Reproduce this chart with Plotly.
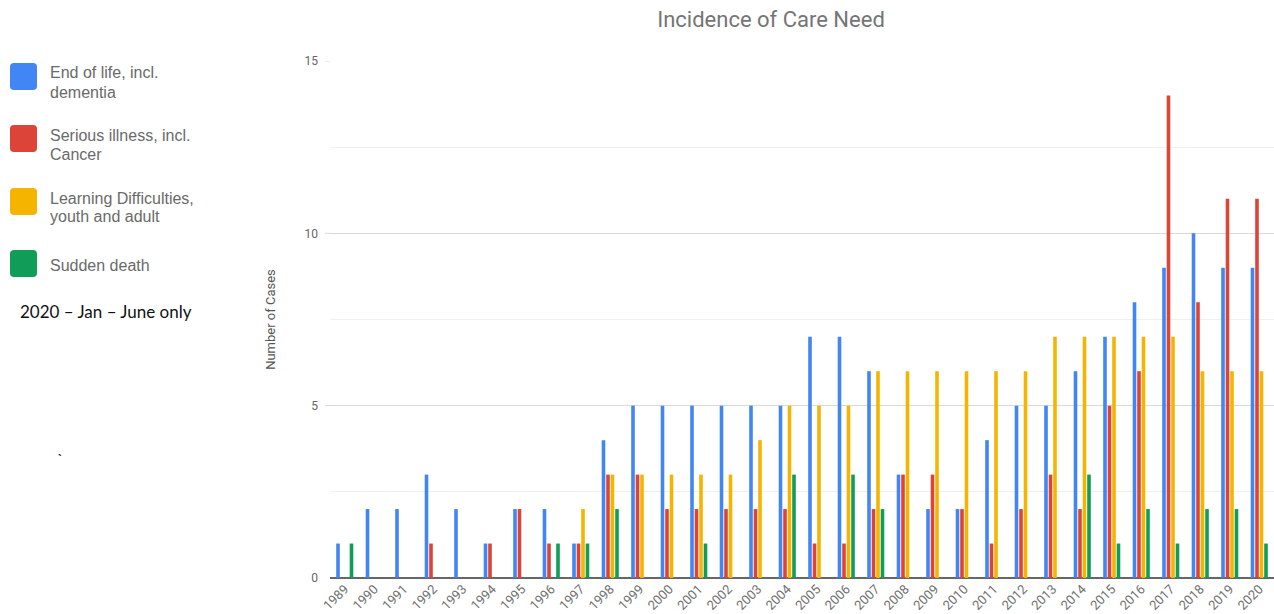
import plotly.graph_objects as go

# Yearly counts per care-need category
years = [str(y) for y in range(1989, 2021)]
end_of_life = [1, 2, 2, 3, 2, 1, 2, 2, 1, 4, 5, 5, 5, 5, 5, 5,
               7, 7, 6, 3, 2, 2, 4, 5, 5, 6, 7, 8, 9, 10, 9, 9]
serious_illness = [0, 0, 0, 1, 0, 1, 2, 1, 1, 3, 3, 2, 2, 2, 2, 2,
                   1, 1, 2, 3, 3, 2, 1, 2, 3, 2, 5, 6, 14, 8, 11, 11]
learning_difficulties = [0, 0, 0, 0, 0, 0, 0, 0, 2, 3, 3, 3, 3, 3, 4, 5,
                         5, 5, 6, 6, 6, 6, 6, 6, 7, 7, 7, 7, 7, 6, 6, 6]
sudden_death = [1, 0, 0, 0, 0, 0, 0, 1, 1, 2, 0, 0, 1, 0, 0, 3,
                0, 3, 2, 0, 0, 0, 0, 0, 0, 3, 1, 2, 1, 2, 2, 1]

series_names = [
    "End of life, incl. dementia",
    "Serious illness, incl. Cancer",
    "Learning Difficulties, youth and adult",
    "Sudden death",
]
legend_lines = [
    ["End of life, incl.", "dementia"],
    ["Serious illness, incl.", "Cancer"],
    ["Learning Difficulties,", "youth and adult"],
    ["Sudden death"],
]
colors = ["#4285F4", "#DB4437", "#F4B400", "#0F9D58"]
series_values = [end_of_life, serious_illness, learning_difficulties, sudden_death]

W, H = 1274, 614
L, R, T, B = 330, 0, 61, 36
plot_w = W - L - R
plot_h = H - T - B


def px_x(x):
    return (x - L) / plot_w


def px_y(y):
    return (H - B - y) / plot_h


def rounded_square(x0, y0, size, r):
    """SVG path (paper coords) of a rounded square given pixel corner and size."""
    x1, y1 = x0 + size, y0 + size
    pts = [
        f"M {px_x(x0 + r)} {px_y(y0)}",
        f"L {px_x(x1 - r)} {px_y(y0)}",
        f"Q {px_x(x1)} {px_y(y0)} {px_x(x1)} {px_y(y0 + r)}",
        f"L {px_x(x1)} {px_y(y1 - r)}",
        f"Q {px_x(x1)} {px_y(y1)} {px_x(x1 - r)} {px_y(y1)}",
        f"L {px_x(x0 + r)} {px_y(y1)}",
        f"Q {px_x(x0)} {px_y(y1)} {px_x(x0)} {px_y(y1 - r)}",
        f"L {px_x(x0)} {px_y(y0 + r)}",
        f"Q {px_x(x0)} {px_y(y0)} {px_x(x0 + r)} {px_y(y0)}",
        "Z",
    ]
    return " ".join(pts)


fig = go.Figure()
for name, vals, col in zip(series_names, series_values, colors):
    fig.add_trace(go.Bar(x=years, y=vals, name=name, marker_color=col,
                         marker_line_width=0))

# Side legend: colored swatches with wrapped labels
shapes = []
annotations = []
swatch_tops = [63, 125, 188, 250]
for top, lines, col in zip(swatch_tops, legend_lines, colors):
    shapes.append(dict(type="path", xref="paper", yref="paper",
                       path=rounded_square(10, top, 27, 4),
                       fillcolor=col, line=dict(width=0), layer="above"))
    if len(lines) == 2:
        centers = [top + 10, top + 29]
    else:
        centers = [top + 15]
    for text, cy in zip(lines, centers):
        annotations.append(dict(text=text, xref="paper", yref="paper",
                                x=px_x(48), y=px_y(cy), xanchor="left", yanchor="middle",
                                showarrow=False,
                                font=dict(family="Liberation Sans, Arial", size=16,
                                          color="#6a6a6a")))

annotations.append(dict(text="2020 – Jan – June only", xref="paper", yref="paper",
                        x=px_x(18), y=px_y(311), xanchor="left", yanchor="middle",
                        showarrow=False,
                        font=dict(family="Lato, Carlito, sans-serif", size=17,
                                  color="#111111")))
annotations.append(dict(text="`", xref="paper", yref="paper",
                        x=px_x(60), y=px_y(458), xanchor="center", yanchor="middle",
                        showarrow=False,
                        font=dict(family="Lato, sans-serif", size=16, color="#111111")))

# Gridlines begin a few pixels left of the first category
for v in (5, 10, 15):
    shapes.append(dict(type="line", xref="paper", yref="y", x0=px_x(325), x1=0,
                       y0=v, y1=v, line=dict(color="#d9d9d9", width=1)))

fig.update_layout(
    width=W, height=H,
    margin=dict(l=L, r=R, t=T, b=B, pad=0),
    paper_bgcolor="white", plot_bgcolor="white",
    barmode="group", bargap=0.39, bargroupgap=0.2,
    showlegend=False,
    title=dict(text="Incidence of Care Need", xref="container", x=771 / W,
               xanchor="center", yref="container", y=1 - 19 / H, yanchor="middle",
               font=dict(family="Roboto", size=22, color="#757575")),
    font=dict(family="Roboto", color="#666666"),
    shapes=shapes,
    annotations=annotations,
)

fig.update_xaxes(type="category", tickangle=-45, showgrid=False, showline=False,
                 ticks="", tickfont=dict(family="Roboto", size=13, color="#707070"))
fig.update_yaxes(range=[0, 15], dtick=5, tick0=0, showgrid=True, gridcolor="#d9d9d9",
                 gridwidth=1, zeroline=True, zerolinecolor="#666666", zerolinewidth=1.5,
                 minor=dict(dtick=2.5, showgrid=True, gridcolor="#f0f0f0", gridwidth=1),
                 ticks="", ticklabelstandoff=11,
                 tickfont=dict(family="Roboto", size=12, color="#666666"),
                 title=dict(text="Number of Cases", standoff=25,
                            font=dict(family="Roboto", size=13, color="#555555")))

fig.write_html("out.html")
